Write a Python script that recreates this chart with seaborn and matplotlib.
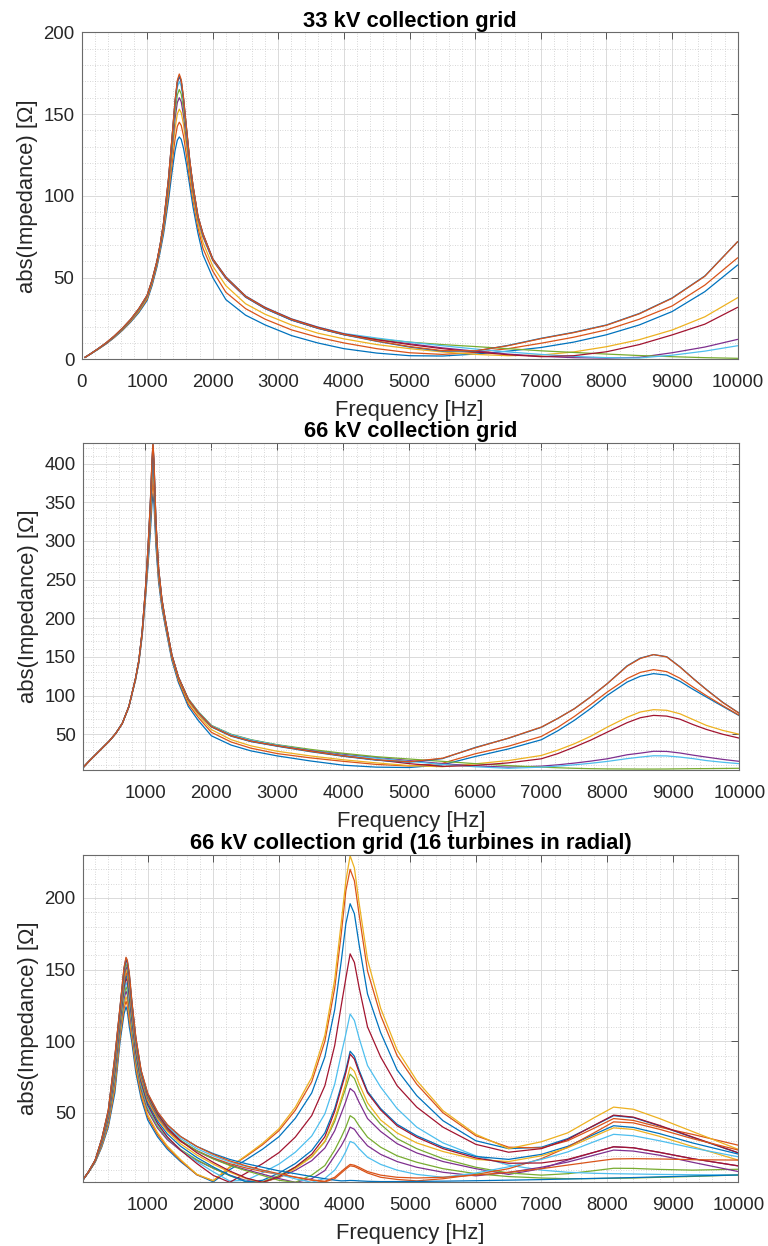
import matplotlib
matplotlib.use("Agg")
import matplotlib.pyplot as plt
import pandas as pd
import seaborn as sns
from matplotlib.ticker import FixedLocator, MultipleLocator

# ---------------- 33 kV collection grid ----------------
f33 = [50, 125, 250, 375, 500, 625, 750, 875, 1000, 1075, 1150, 1200, 1250, 1325, 1375, 1425, 1460, 1490, 1520,
       1555, 1600, 1650, 1700, 1775, 1850, 2000, 2200, 2500, 2800, 3200, 3600, 4000, 4500, 5000, 5500, 6000,
       6500, 7000, 7500, 8000, 8500, 9000, 9500, 10000]
z33_1 = [1.1, 2.9, 6.0, 9.4, 13.3, 17.7, 22.8, 28.6, 36, 45, 56.5, 66, 76.5, 97, 113, 127.5, 134, 136, 134.5, 129,
         119, 106, 93, 77, 64, 50, 36.5, 27, 21, 14.5, 10, 6.5, 3.8, 2.2, 2.0, 3.2, 5.0, 7.2, 10.5, 15, 21, 29.2,
         41.4, 57.7]
z33_2 = [1.1, 2.9, 6.1, 9.5, 13.5, 18, 23.2, 29.2, 36.8, 46, 57.5, 67.5, 78.5, 100.5, 118, 134.5, 142.5, 145, 143,
         136.5, 124.5, 110, 97, 80.5, 68, 54, 41, 31, 24.5, 18, 13.5, 10, 6.5, 4, 3, 4.2, 6.5, 9.8, 13.5, 18, 24.5,
         32.6, 45.4, 62.1]
z33_3 = [1.1, 3, 6.2, 9.7, 13.7, 18.3, 23.6, 29.7, 37.5, 46.8, 58.5, 68.5, 80, 103.5, 122.5, 141, 150, 153, 150.8,
         143.5, 129.5, 113.5, 100, 83, 71.5, 57, 45, 34, 27.5, 21, 16, 12.5, 9, 6.5, 4.5, 3, 2.2, 2.6, 4.5, 7.7, 12,
         17.9, 26, 37.7]
z33_4 = [1.1, 3, 6.3, 9.8, 13.9, 18.6, 24, 30.3, 38.2, 47.5, 59.2, 69.3, 81.3, 106, 126.5, 147, 157, 160, 157.5,
         149, 134, 117, 102.5, 85.5, 75, 60.5, 49.5, 38, 31, 24, 19, 15, 12, 9.5, 7, 5, 3.2, 1.8, 1, 0.7, 1.2, 4,
         7.5, 12.2]
z33_5 = [1.1, 3, 6.3, 9.9, 14, 18.7, 24.1, 30.5, 38.5, 47.8, 59.5, 69.7, 82, 107.5, 129, 151, 161.7, 165, 162.3,
         153, 137, 119, 104, 86.5, 76, 61, 50, 38.3, 31.3, 24.3, 19.3, 15.3, 12.5, 10.5, 9, 7.8, 6.5, 5.2, 4.2, 3.2,
         2.3, 1.6, 1.0, 0.6]
z33_6 = [1.1, 3, 6.4, 10, 14.1, 18.9, 24.3, 30.8, 38.8, 48, 59.7, 70.1, 82.7, 109, 131.5, 154.8, 166.4, 170, 167,
         157, 139.5, 120.5, 105.5, 87, 76.5, 61.5, 50.5, 38.8, 31.8, 24.8, 19.8, 15.8, 13, 10.5, 8.3, 6.3, 4.5, 3,
         1.8, 1.0, 0.8, 2.5, 5, 8.3]
z33_7 = [1.1, 3, 6.4, 10, 14.2, 19, 24.4, 31, 39, 48.3, 60, 70.4, 83.2, 110, 133, 157, 169.2, 173, 169.8, 159, 141,
         121.5, 106, 87.5, 77, 61.5, 50.3, 38.6, 31.6, 24.6, 19.6, 15.5, 12, 9, 6.5, 4.5, 2.8, 1.6, 2.2, 4.6, 9,
         14.9, 21.5, 31.8]
z33_8 = [1.1, 3, 6.4, 10, 14.2, 19, 24.4, 31, 39.1, 48.4, 60, 70.5, 83.3, 110.1, 133.3, 157.5, 169.8, 173.5, 170.2,
         159.5, 141.3, 121.3, 105.8, 87.2, 76.5, 61, 49.8, 38.2, 31, 24, 19, 15, 11, 7.5, 5, 5, 8.5, 12.8, 16.5, 21,
         28, 37.5, 51, 72]
z33_9 = [1.1, 3, 6.4, 10.1, 14.3, 19.1, 24.5, 31.1, 39.2, 48.5, 60.1, 70.6, 83.4, 110.3, 133.6, 158, 170.5, 174.5,
         171, 160, 141.6, 121.6, 106, 87.4, 76.7, 61.2, 50, 38.4, 31.3, 24.3, 19.2, 15.2, 11.2, 7.8, 5.3, 5.2, 8.3,
         12.6, 16.3, 20.8, 27.8, 37.3, 50.8, 72]

# ---------------- 66 kV collection grid ----------------
f66 = [50, 150, 250, 350, 450, 550, 650, 750, 850, 900, 950, 1000, 1040, 1075, 1100, 1115, 1130, 1160, 1200, 1250,
       1300, 1400, 1500, 1650, 1800, 2000, 2300, 2600, 3000, 3500, 4000, 4500, 5000, 5500, 6000, 6500, 7000, 7250,
       7500, 7750, 8000, 8300, 8500, 8700, 8900, 9100, 9300, 9500, 9750, 10000]
z66_1 = [6.5, 15.5, 24, 32.5, 41, 51, 64, 85.5, 120, 141.8, 175.8, 223.7, 268, 311, 347.5, 361, 347.5, 293, 247,
         213.5, 190, 146, 117, 86, 68, 48, 36, 28.5, 22, 15.5, 10, 7.5, 7, 10.5, 21.3, 31, 42.9, 54.5, 68, 83.5,
         100.4, 117.5, 125, 128.4, 126.5, 118.5, 108, 98.2, 86, 74]
z66_2 = [6.5, 15.5, 24, 32.5, 41, 51, 64, 85.6, 120.5, 143, 177.3, 227, 274, 320.5, 361, 377, 361, 301, 251.5,
         216.5, 192.5, 148.5, 119.5, 89, 72, 52.5, 40, 32, 25, 19.5, 15, 11, 9, 12.5, 24.8, 34.5, 47.2, 59, 73,
         88.5, 104.7, 122, 130, 133.6, 131, 122.5, 111, 100, 87, 74.5]
z66_3 = [6.5, 15.5, 24, 32.5, 41, 51, 64, 85.7, 121, 143.8, 178.8, 230, 279, 329, 373, 390, 373, 308, 255.5, 219,
         194.5, 150, 121.5, 92, 75, 56, 43, 35, 28, 22, 17, 13, 9.5, 8, 11.8, 16, 22.6, 29.5, 37.7, 47.5, 59.3, 72,
         78.8, 81.8, 81, 76.5, 69, 61.5, 55, 50]
z66_4 = [6.5, 15.5, 24, 32.5, 41, 51, 64, 85.8, 121.3, 144.2, 179.8, 232, 283, 335, 382.5, 401, 382.5, 313, 258.5,
         221, 196, 151.7, 123.3, 95.5, 79, 61, 49.5, 42.5, 36, 29.5, 24, 20, 16, 12, 9, 7.5, 8.8, 10.5, 12.7, 15.3,
         18.3, 23.5, 25.6, 28, 27.8, 25.8, 23, 20.5, 17.5, 15]
z66_5 = [6.5, 15.5, 24, 32.5, 41, 51, 64, 86, 121.7, 144.6, 180.8, 234.4, 287, 341.8, 392, 412, 392, 318.3, 261.3,
         222.8, 197.4, 152.3, 123.6, 96, 79.5, 61.5, 50, 43, 36.5, 30.5, 25.4, 21, 18, 15, 12, 9.5, 7.5, 6.7, 6,
         5.5, 5.2, 5.1, 5, 5, 5.1, 5.3, 5.5, 5.6, 5.8, 6]
z66_6 = [6.5, 15.5, 24, 32.5, 41, 51, 64, 86, 121.8, 144.8, 181.3, 235.5, 289, 345, 397, 418, 397, 321, 263, 223.8,
         198, 152.6, 123.8, 95.5, 79, 61, 49.5, 42.5, 36, 29, 23, 19, 15, 11, 8, 6, 7.5, 8.8, 10.5, 12.5, 14.9,
         18.5, 20.5, 22.2, 22, 20.5, 18.5, 16, 13.8, 12]
z66_7 = [6.5, 15.5, 24, 32.5, 41, 51, 64, 86, 122, 145, 181.8, 236.5, 291, 348.5, 402, 424, 402, 323.5, 264.3,
         224.6, 198.7, 152.9, 123.9, 95, 78, 60, 48, 41, 35, 28.5, 22, 17, 12, 8.5, 9.7, 13, 18.3, 25, 33.4, 42.5,
         52.8, 65, 71.4, 74.4, 73.5, 69.5, 62.5, 56.3, 50, 45]
z66_8 = [6.5, 15.5, 24, 32.5, 41, 51, 64, 86, 122, 145, 181.9, 236.7, 291.3, 349, 403, 425, 403, 324, 264.6, 224.8,
         198.8, 153, 124, 94.5, 77.5, 59.5, 47.5, 40.5, 34.5, 27.5, 21.5, 16.5, 14, 18.5, 33, 44.8, 59, 70.5, 83,
         98.5, 115.5, 138.5, 148.5, 153, 150.3, 137.3, 122.3, 108, 91.3, 77.2]
z66_9 = [6.5, 15.5, 24, 32.5, 41, 51, 64, 86, 122, 145, 182, 237, 292, 350, 405, 427, 405, 325, 265, 225, 199, 153,
         124, 95, 78, 60, 48, 41, 35, 28, 22, 17, 14.5, 19, 32.5, 45, 59.3, 70.5, 83, 98.5, 115.5, 138, 148, 153,
         150, 137, 122, 107.7, 91, 77]

# ---------------- 66 kV collection grid (16 turbines in radial) ----------------
f66r = [10, 100, 200, 300, 400, 500, 580, 640, 670, 690, 720, 760, 820, 900, 1000, 1150, 1300, 1500, 1750, 2000,
        2250, 2500, 2750, 3000, 3250, 3500, 3700, 3850, 3950, 4020, 4085, 4150, 4220, 4350, 4550, 4800, 5100, 5500,
        6000, 6500, 7000, 7400, 7800, 8100, 8400, 8800, 9300, 10000]
z66r_1 = [3, 8.5, 15.5, 26, 40, 64, 100, 119, 124, 121, 110, 99, 78, 60,
          45.1, 33.3, 24.6, 16, 6.8, 1.8, 10.3, 17.2, 24.6, 33.3, 46.2, 63.9, 89,
          122, 156, 182, 196, 189, 168, 133, 106, 80, 62, 44.5, 30.5, 25, 26, 32, 41, 48, 46.7, 40.9, 32.9, 22]
z66r_2 = [3, 8.6, 15.7, 26.7, 41.4, 67, 102.9, 122.8, 128, 125.1, 114.3, 102.3, 80.9, 62.3,
          47.1, 34.9, 25.8, 16.7, 6.7, 2.6, 11.9, 19.6, 27.7, 37.5, 51.8, 71.7, 99.9,
          137, 175, 205, 220, 212, 189, 149, 118, 90, 70, 50, 34, 26, 25.5, 30.5, 39.2, 46, 44.7, 40, 35, 27.4]
z66r_3 = [3, 8.6, 15.8, 27.2, 42.4, 69.2, 105, 125.6, 131, 128.2, 117.6, 104.8, 83, 64,
          48.6, 36.2, 26.8, 17.4, 7.1, 2.6, 12.2, 20.2, 28.7, 38.9, 53.9, 74.7, 104.1,
          143, 183, 212, 229.5, 221, 197, 157, 123, 94, 72.5, 51.5, 35, 25, 29.8, 36, 46.5, 54, 52.5, 46, 37, 24.5]
z66r_4 = [3, 8.7, 16, 27.9, 43.8, 72.2, 107.9, 129.4, 135, 132.3, 121.9, 108.1, 85.9, 66.3,
          51.4, 39.4, 31.2, 23.8, 16.8, 11.3, 6.5, 2.7, 1.5, 4.8, 9.9, 16.6, 25.4,
          37.5, 49.5, 58, 67, 64.5, 57.5, 46, 37, 28.5, 22, 16, 11, 7, 11, 17, 22.4, 26.3, 25.6, 22.4, 18, 12.9]
z66r_5 = [3, 8.7, 16.1, 28.4, 44.8, 74.4, 110, 132.2, 138, 135.4, 125.2, 110.6, 88, 68,
          52.9, 40.7, 32.3, 24.5, 17.2, 11.3, 6.1, 2, 1.9, 6.2, 12, 19.5, 29.8,
          44, 58, 67.5, 77, 74, 66, 53, 42, 32, 25, 18, 12, 8, 6.5, 7.5, 9.6, 11.3, 11.2, 10.5, 10, 10.6]
z66r_6 = [3, 8.7, 16.2, 28.9, 45.8, 76.6, 112.2, 135, 141, 138.5, 128.5, 113.1, 90.2, 69.7,
          54.2, 41.8, 32.7, 24.2, 15.9, 8.8, 2.4, 2.9, 8.2, 14.2, 22.5, 33.8, 49.3,
          70, 91, 105, 119, 114.5, 102.5, 83, 68, 53, 40, 29, 20, 13.5, 10, 8.5, 7.8, 7.5, 7.3, 7, 6.8, 6.6]
z66r_7 = [3, 8.8, 16.4, 29.4, 46.9, 78.8, 114.3, 137.8, 144, 141.6, 131.7, 115.6, 92.3, 71.4,
          55.6, 42.7, 33.2, 24, 14.6, 6.3, 1.5, 7.9, 14.5, 22.2, 33.1, 48.1, 68.9,
          97, 125, 144, 161, 155, 138, 110, 89, 69, 54, 40, 28, 22.5, 25, 31.4, 41.2, 48.4, 47, 41.2, 33.2, 22.1]
z66r_8 = [3, 8.8, 16.4, 29.8, 47.5, 80.4, 115.7, 139.8, 146, 143.6, 133.9, 117.2, 93.7, 72.6,
          56.9, 44.3, 35.2, 26.7, 18.8, 12.2, 6.4, 1.8, 2.9, 7.9, 14.6, 23.7, 36,
          53, 69, 80, 93, 89.5, 80, 65, 53, 42, 34, 26, 19.5, 17.5, 21, 26.6, 34.9, 41, 39.8, 35.5, 29, 21.2]
z66r_9 = [3, 8.8, 16.5, 30.1, 48.2, 81.8, 117.2, 141.6, 148, 145.7, 136.1, 118.9, 95.2, 73.7,
          58.3, 46, 37.6, 30, 23.5, 18.5, 14.5, 11.5, 9, 7, 5, 3, 1.8,
          4, 8, 10.8, 13, 12.5, 11, 8, 5, 3.5, 2.5, 4, 7, 11, 18, 26, 36, 43.7, 43, 38.5, 32, 24]
z66r_10 = [3, 8.9, 16.6, 30.5, 48.9, 83.3, 118.6, 143.5, 150, 147.7, 138.2, 120.5, 96.6, 74.9,
           59, 46.2, 37, 28.4, 20.5, 14.2, 8.6, 4.1, 1.5, 4.9, 11.1, 19.2, 30.2,
           46, 60, 70.5, 82, 79, 70.5, 57, 45, 36, 29, 23, 17.5, 16, 20, 25.6, 33.6, 39.5, 38.4, 33.6, 26.5, 17]
z66r_11 = [3, 8.9, 16.7, 30.8, 49.6, 84.8, 120, 145.4, 152, 149.8, 140.4, 122.2, 98, 76,
           60.2, 47.5, 38.5, 30.4, 23.3, 18, 13.6, 10.3, 7.2, 4.1, 1.5, 4, 9.7,
           20, 27, 33, 40, 38.5, 34, 27, 21, 16, 12, 8.5, 6, 8.4, 12, 15.6, 20.4, 24, 23.3, 20.4, 15.5, 9]
z66r_12 = [3, 8.9, 16.8, 31.1, 50.3, 86.3, 121.4, 147.3, 154, 151.9, 142.6, 123.9, 99.4, 77.1,
           61.2, 48.3, 39.2, 30.8, 23.5, 17.8, 13.3, 9.6, 6.3, 2.9, 1.5, 6.5, 13.2,
           24, 33, 40, 48, 46, 41, 33, 26, 20, 15.5, 11, 7.5, 5.5, 4.5, 4, 4.1, 4.3, 4.5, 5, 5.6, 6.6]
z66r_13 = [3, 9, 16.9, 31.5, 51, 87.8, 122.9, 149.2, 156, 153.9, 144.7, 125.5, 100.9, 78.3,
           62.4, 49.3, 40.3, 32.1, 25, 19.9, 15.7, 12.6, 9.8, 7, 3.9, 1.5, 4.2,
           10, 17, 23, 30, 28.8, 25, 19, 14, 10, 7, 5, 8, 12.3, 17.5, 22.7, 29.8, 35, 34, 30.5, 25.5, 19.3]
z66r_14 = [3, 9, 16.9, 31.7, 51.3, 88.5, 123.6, 150.1, 157, 154.9, 145.8, 126.3, 101.6, 78.9,
           62.6, 49.3, 39.6, 30.5, 22.1, 15.4, 9.4, 4.5, 1.5, 5.3, 12.2, 21.1, 33.3,
           51, 67, 78, 91, 87.5, 78.5, 64, 52, 41, 33, 25, 18.5, 14.8, 15, 17.5, 22.4, 26.3, 25.6, 22.4, 18, 13]
z66r_15 = [3, 9, 17, 31.8, 51.7, 89.2, 124.3, 151, 158, 156, 146.9, 127.2, 102.3, 79.4,
           63.5, 50.5, 41.5, 33.5, 26.5, 21.5, 17.5, 14.5, 12, 9.5, 7.5, 5.5, 4,
           3, 2.5, 2.6, 2.8, 2.7, 2.5, 2.2, 2, 2, 2.1, 2.3, 2.6, 3, 3.4, 3.8, 4.2, 4.5, 4.8, 5.3, 5.9, 6.6]
z66r_16 = [3, 9, 17, 31.9, 51.9, 89.7, 124.7, 151.6, 158.6, 156.6, 147.6, 127.7, 102.7, 79.8,
           63.8, 50.8, 41.8, 33.5, 26.5, 21, 16.5, 13, 10, 7.5, 5.2, 3.2, 2.2,
           5, 9, 11.7, 14, 13.4, 12, 9, 6.5, 5, 4.5, 5, 6.5, 8.5, 11, 13.5, 16, 17.8, 18, 17.8, 17.3, 17]

titles = ["33 kV collection grid", "66 kV collection grid", "66 kV collection grid (16 turbines in radial)"]
x_label = "Frequency [Hz]"
y_label = "abs(Impedance) [Ω]"
xticks_33 = [0, 1000, 2000, 3000, 4000, 5000, 6000, 7000, 8000, 9000, 10000]
xticks_66 = [1000, 2000, 3000, 4000, 5000, 6000, 7000, 8000, 9000, 10000]
yticks_33 = [0, 50, 100, 150, 200]
yticks_66 = [50, 100, 150, 200, 250, 300, 350, 400]
yticks_66r = [50, 100, 150, 200]

matlab_colors = ['#0072BD', '#D95319', '#EDB120', '#7E2F8E', '#77AC30', '#4DBEEE', '#A2142F']

sns.set_theme(style="white")
plt.rcParams['font.family'] = ['Liberation Sans', 'DejaVu Sans']

fig = plt.figure(figsize=(7.68, 12.46), dpi=100)
W, H = 768.0, 1246.0


def add_axes(left, right, top, bottom):
    return fig.add_axes([left / W, 1 - bottom / H, (right - left) / W, (bottom - top) / H])


def draw(ax, freq, curves, title, xlim, ylim, xticks, yticks):
    frames = [pd.DataFrame({"f": freq, "z": c, "curve": i}) for i, c in enumerate(curves)]
    df = pd.concat(frames, ignore_index=True)
    pal = [matlab_colors[i % 7] for i in range(len(curves))]
    sns.lineplot(data=df, x="f", y="z", hue="curve", palette=pal, estimator=None, sort=False,
                 legend=False, lw=0.9, ax=ax)
    ax.set_xlim(*xlim)
    ax.set_ylim(*ylim)
    ax.xaxis.set_major_locator(FixedLocator(xticks))
    ax.yaxis.set_major_locator(FixedLocator(yticks))
    ax.xaxis.set_minor_locator(MultipleLocator(200))
    ax.yaxis.set_minor_locator(MultipleLocator(10))
    ax.set_axisbelow(True)
    ax.grid(which="major", color="#dadada", lw=0.7, ls="-")
    ax.grid(which="minor", color="#cacaca", lw=0.6, ls=(0, (1, 2)))
    ax.tick_params(which="major", direction="in", length=5, width=0.6, top=True, right=True,
                   color="#404040", labelcolor="#262626", labelsize=13.4)
    ax.tick_params(axis="x", which="major", pad=10.5)
    ax.tick_params(axis="y", which="major", pad=5)
    ax.tick_params(which="minor", length=0, top=True, right=True)
    for sp in ax.spines.values():
        sp.set_color("#6a6a6a")
        sp.set_linewidth(0.8)
    ax.set_xlabel(x_label, fontsize=15.8, color="#262626", labelpad=6.5)
    ax.set_ylabel(y_label, fontsize=15.8, color="#262626", labelpad=4)
    ax.set_title(title, fontsize=15.8, fontweight="bold", color="black", pad=4)


ax1 = add_axes(81.5, 737.7, 32.3, 359.3)
ax2 = add_axes(82.7, 739.3, 442.7, 770.0)
ax3 = add_axes(82.7, 738.3, 855.0, 1182.3)

draw(ax1, f33, [z33_1, z33_2, z33_3, z33_4, z33_5, z33_6, z33_7, z33_8, z33_9],
     titles[0], (0, 10000), (0, 200), xticks_33, yticks_33)
draw(ax2, f66, [z66_1, z66_2, z66_3, z66_4, z66_5, z66_6, z66_7, z66_8, z66_9],
     titles[1], (50, 10000), (3.8, 427), xticks_66, yticks_66)
draw(ax3, f66r, [z66r_1, z66r_2, z66r_3, z66r_4, z66r_5, z66r_6, z66r_7, z66r_8, z66r_9, z66r_10,
                 z66r_11, z66r_12, z66r_13, z66r_14, z66r_15, z66r_16],
     titles[2], (10, 10000), (1.5, 230), xticks_66, yticks_66r)

fig.savefig("out.png", dpi=100, facecolor="white")
